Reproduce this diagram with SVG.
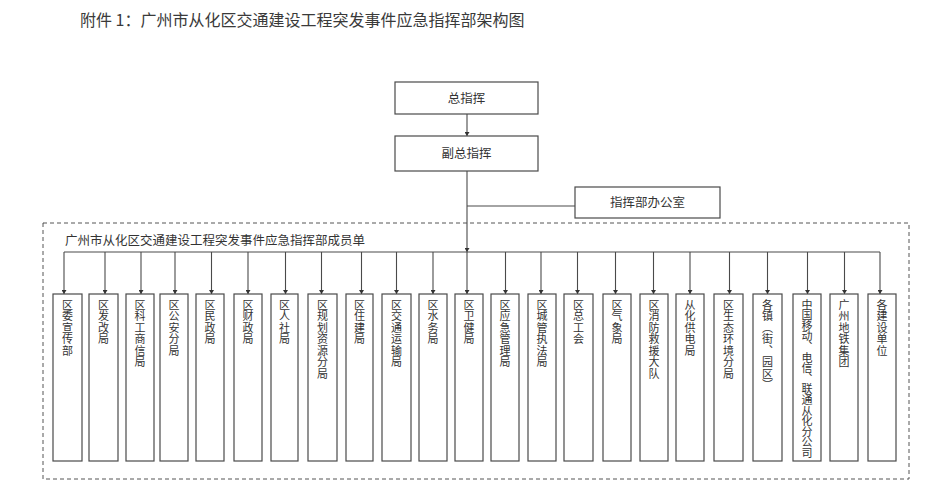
<svg xmlns="http://www.w3.org/2000/svg" width="939" height="495" viewBox="0 0 939 495">
<defs>
<style>
.bg{fill:#ffffff}
.box{fill:#ffffff;stroke:#4a4a4a;stroke-width:1.2}
.line{fill:none;stroke:#4a4a4a;stroke-width:1.1}
.dash{fill:none;stroke:#555;stroke-width:1;stroke-dasharray:4 3}
.t{font-family:"Noto Sans CJK SC","Noto Sans",sans-serif;fill:#333}
.title{font-size:16px;fill:#3a3a3a}
.top{font-size:12.5px;text-anchor:middle}
.sub{font-size:12.5px}
.v{font-size:11px;writing-mode:vertical-rl;letter-spacing:0.5px}
</style>
<marker id="ah" viewBox="0 0 8 10" refX="8" refY="5" markerWidth="4" markerHeight="5" markerUnits="userSpaceOnUse" orient="auto">
<path d="M0,0 L8,5 L0,10 Z" fill="#333"/>
</marker>
</defs>
<rect class="bg" x="0" y="0" width="939" height="495"/>
<text class="t title" x="80" y="26">附件 1：广州市从化区交通建设工程突发事件应急指挥部架构图</text>

<rect class="dash" x="43" y="223" width="866" height="256"/>
<text class="t sub" x="65" y="245">广州市从化区交通建设工程突发事件应急指挥部成员单</text>

<g id="connectors">
<line class="line" x1="467" y1="114" x2="467" y2="136" marker-end="url(#ah)"/>
<line class="line" x1="467" y1="171" x2="467" y2="252" marker-end="url(#ah)"/>
<line class="line" x1="467" y1="206" x2="575" y2="206"/>
<line class="line" x1="64" y1="252" x2="880" y2="252"/>
<g marker-end="url(#ah)">
<line class="line" x1="64" y1="252" x2="64" y2="294"/>
<line class="line" x1="105" y1="252" x2="105" y2="294"/>
<line class="line" x1="141" y1="252" x2="141" y2="294"/>
<line class="line" x1="175" y1="252" x2="175" y2="294"/>
<line class="line" x1="211.5" y1="252" x2="211.5" y2="294"/>
<line class="line" x1="248" y1="252" x2="248" y2="294"/>
<line class="line" x1="285.5" y1="252" x2="285.5" y2="294"/>
<line class="line" x1="321.5" y1="252" x2="321.5" y2="294"/>
<line class="line" x1="361.5" y1="252" x2="361.5" y2="294"/>
<line class="line" x1="396.5" y1="252" x2="396.5" y2="294"/>
<line class="line" x1="433" y1="252" x2="433" y2="294"/>
<line class="line" x1="467" y1="252" x2="467" y2="294"/>
<line class="line" x1="505.5" y1="252" x2="505.5" y2="294"/>
<line class="line" x1="541" y1="252" x2="541" y2="294"/>
<line class="line" x1="577.5" y1="252" x2="577.5" y2="294"/>
<line class="line" x1="615.5" y1="252" x2="615.5" y2="294"/>
<line class="line" x1="653.5" y1="252" x2="653.5" y2="294"/>
<line class="line" x1="690" y1="252" x2="690" y2="294"/>
<line class="line" x1="729.5" y1="252" x2="729.5" y2="294"/>
<line class="line" x1="767.5" y1="252" x2="767.5" y2="294"/>
<line class="line" x1="807.5" y1="252" x2="807.5" y2="294"/>
<line class="line" x1="844.5" y1="252" x2="844.5" y2="294"/>
<line class="line" x1="880" y1="252" x2="880" y2="294"/>
</g>
</g>

<g id="n-zongzhihui"><rect class="box" x="395" y="82" width="143" height="32"/><text class="t top" x="466.5" y="102.5">总指挥</text></g>
<g id="n-fuzongzhihui"><rect class="box" x="395" y="136" width="143" height="35"/><text class="t top" x="466.5" y="158">副总指挥</text></g>
<g id="n-bangongshi"><rect class="box" x="575" y="187" width="145" height="31"/><text class="t top" x="647.5" y="207">指挥部办公室</text></g>

<g id="m1"><rect class="box" x="53" y="294" width="29" height="167"/><text class="t v" x="67.5" y="299">区委宣传部</text></g>
<g id="m2"><rect class="box" x="89" y="294" width="29" height="167"/><text class="t v" x="103.5" y="299">区发改局</text></g>
<g id="m3"><rect class="box" x="126" y="294" width="28" height="167"/><text class="t v" x="140" y="299">区科工商信局</text></g>
<g id="m4"><rect class="box" x="160" y="294" width="28" height="167"/><text class="t v" x="174" y="299">区公安分局</text></g>
<g id="m5"><rect class="box" x="196" y="294" width="28" height="167"/><text class="t v" x="210" y="299">区民政局</text></g>
<g id="m6"><rect class="box" x="234" y="294" width="28" height="167"/><text class="t v" x="248" y="299">区财政局</text></g>
<g id="m7"><rect class="box" x="271" y="294" width="27" height="167"/><text class="t v" x="284.5" y="299">区人社局</text></g>
<g id="m8"><rect class="box" x="308" y="294" width="29" height="167"/><text class="t v" x="322.5" y="299">区规划资源分局</text></g>
<g id="m9"><rect class="box" x="346" y="294" width="27" height="167"/><text class="t v" x="359.5" y="299">区住建局</text></g>
<g id="m10"><rect class="box" x="382" y="294" width="29" height="167"/><text class="t v" x="396.5" y="299">区交通运输局</text></g>
<g id="m11"><rect class="box" x="419" y="294" width="28" height="167"/><text class="t v" x="433" y="299">区水务局</text></g>
<g id="m12"><rect class="box" x="455" y="294" width="28" height="167"/><text class="t v" x="469" y="299">区卫健局</text></g>
<g id="m13"><rect class="box" x="491" y="294" width="28" height="167"/><text class="t v" x="505" y="299">区应急管理局</text></g>
<g id="m14"><rect class="box" x="528" y="294" width="28" height="167"/><text class="t v" x="542" y="299">区城管执法局</text></g>
<g id="m15"><rect class="box" x="564" y="294" width="29" height="167"/><text class="t v" x="578.5" y="299">区总工会</text></g>
<g id="m16"><rect class="box" x="603" y="294" width="28" height="167"/><text class="t v" x="617" y="299">区气象局</text></g>
<g id="m17"><rect class="box" x="640" y="294" width="28" height="167"/><text class="t v" x="654" y="299">区消防救援大队</text></g>
<g id="m18"><rect class="box" x="676" y="294" width="28" height="167"/><text class="t v" x="690" y="299">从化供电局</text></g>
<g id="m19"><rect class="box" x="714" y="294" width="29" height="167"/><text class="t v" x="728.5" y="299">区生态环境分局</text></g>
<g id="m20"><rect class="box" x="753" y="294" width="29" height="167"/><text class="t v" x="767.5" y="299">各镇（街、园区）</text></g>
<g id="m21"><rect class="box" x="793" y="294" width="28" height="167"/><text class="t v" x="807" y="299" style="letter-spacing:-0.4px">中国移动、电信、联通从化分公司</text></g>
<g id="m22"><rect class="box" x="830" y="294" width="28" height="167"/><text class="t v" x="844" y="299">广州地铁集团</text></g>
<g id="m23"><rect class="box" x="868" y="294" width="28" height="167"/><text class="t v" x="882" y="299">各建设单位</text></g>
</svg>
